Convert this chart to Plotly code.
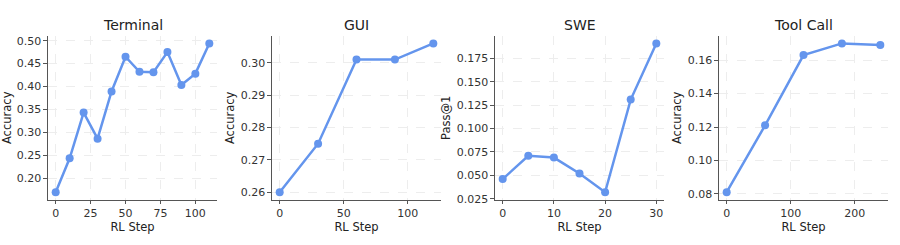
import plotly.graph_objects as go
from plotly.subplots import make_subplots

titles = ["Terminal", "GUI", "SWE", "Tool Call"]
y_labels = ["Accuracy", "Accuracy", "Pass@1", "Accuracy"]

terminal_steps = [0, 10, 20, 30, 40, 50, 60, 70, 80, 90, 100, 110]
terminal_vals = [0.169, 0.243, 0.343, 0.286, 0.389, 0.465, 0.432, 0.431, 0.475, 0.403, 0.428, 0.494]

gui_steps = [0, 30, 60, 90, 120]
gui_vals = [0.260, 0.275, 0.301, 0.301, 0.306]

swe_steps = [0, 5, 10, 15, 20, 25, 30]
swe_vals = [0.046, 0.071, 0.069, 0.052, 0.032, 0.131, 0.191]

tool_steps = [0, 60, 120, 180, 240]
tool_vals = [0.081, 0.121, 0.163, 0.170, 0.169]

x_ticks = [[0, 25, 50, 75, 100], [0, 50, 100], [0, 10, 20, 30], [0, 100, 200]]
y_ticks = [
    [0.20, 0.25, 0.30, 0.35, 0.40, 0.45, 0.50],
    [0.26, 0.27, 0.28, 0.29, 0.30],
    [0.025, 0.050, 0.075, 0.100, 0.125, 0.150, 0.175],
    [0.08, 0.10, 0.12, 0.14, 0.16],
]
y_fmt = [".2f", ".2f", ".3f", ".2f"]

series = [(terminal_steps, terminal_vals), (gui_steps, gui_vals),
          (swe_steps, swe_vals), (tool_steps, tool_vals)]

W, H = 900, 245
lefts = [48, 272, 495, 719]
width = 169
top, bottom = 36, 204.5

color = "#6495ED"
fig = make_subplots(rows=1, cols=4)

def margin_range(vals):
    lo, hi = min(vals), max(vals)
    m = (hi - lo) * 0.05
    return [lo - m, hi + m]

for i, (xs, ys) in enumerate(series):
    fig.add_trace(go.Scatter(x=xs, y=ys, mode="lines+markers",
                             line=dict(color=color, width=2.5),
                             marker=dict(color=color, size=8),
                             showlegend=False), row=1, col=i + 1)
    xd = [lefts[i] / W, (lefts[i] + width) / W]
    yd = [1 - bottom / H, 1 - top / H]
    axis_common = dict(showline=True, linecolor="#555555", linewidth=1.2,
                       ticks="outside", ticklen=3.5, tickcolor="#555555", tickwidth=1,
                       showgrid=True, gridcolor="#ededed", griddash="dash", gridwidth=0.8,
                       zeroline=False, mirror=False,
                       tickfont=dict(family="DejaVu Sans", size=11, color="#333333"))
    fig.update_xaxes(domain=xd, range=margin_range(xs), tickvals=x_ticks[i],
                     title=dict(text="RL Step", standoff=1,
                                font=dict(family="DejaVu Sans", size=11.5, color="#222222")),
                     row=1, col=i + 1, **axis_common)
    fig.update_yaxes(domain=yd, range=margin_range(ys), tickvals=y_ticks[i],
                     tickformat=y_fmt[i],
                     title=dict(text=y_labels[i], standoff=3,
                                font=dict(family="DejaVu Sans", size=11.5, color="#222222")),
                     row=1, col=i + 1, **axis_common)
    fig.add_annotation(text=titles[i], xref="paper", yref="paper",
                       x=(lefts[i] + width / 2) / W, y=1 - 25 / H,
                       showarrow=False, xanchor="center", yanchor="middle",
                       font=dict(family="DejaVu Sans", size=14, color="#222222"))

fig.update_layout(width=W, height=H, margin=dict(l=0, r=0, t=0, b=0),
                  paper_bgcolor="white", plot_bgcolor="white")
fig.write_html("out.html")
